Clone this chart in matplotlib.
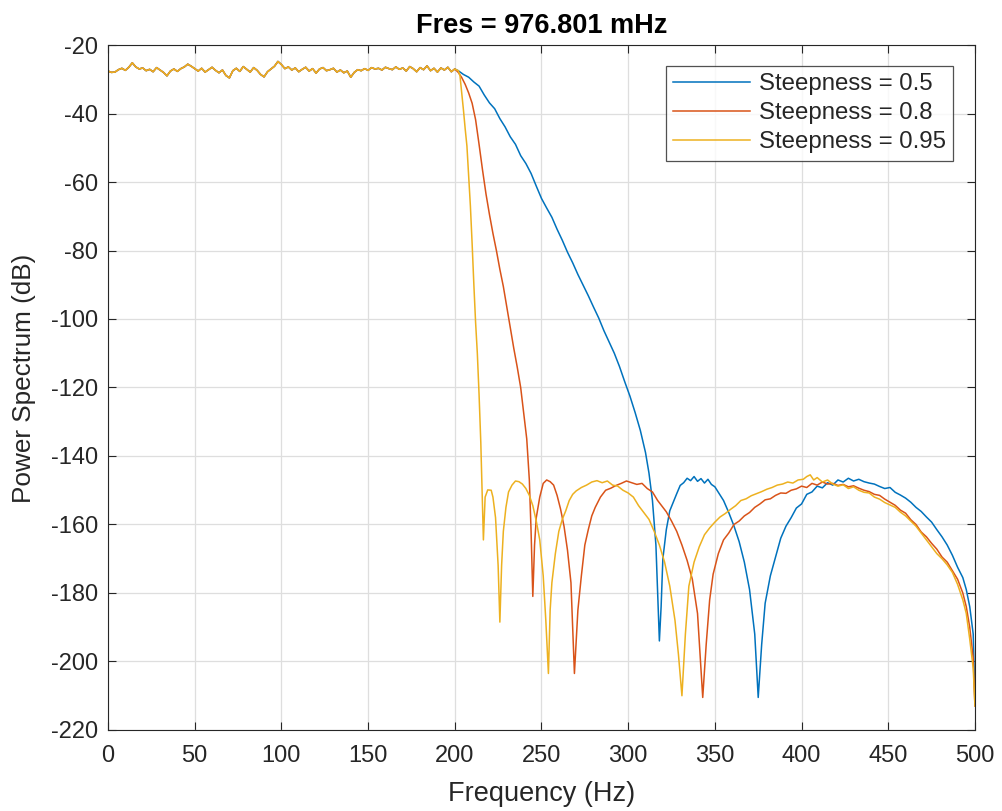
import numpy as np
import matplotlib
matplotlib.use("Agg")
import matplotlib.pyplot as plt

# ---------------- data ----------------
title_text = "Fres = 976.801 mHz"
labels = ["Steepness = 0.5", "Steepness = 0.8", "Steepness = 0.95"]
colors = ["#0072BD", "#D95319", "#EDB120"]

# common passband (0..200 Hz, every 2 Hz)
pass_freq = list(range(0, 201, 2))
pass_db = [
    -27.6, -28.0, -27.9, -27.2, -26.8, -27.4, -26.5, -25.2, -26.4, -27.0,
    -26.7, -27.5, -27.1, -27.8, -26.6, -27.3, -28.0, -29.0, -27.6, -27.0,
    -27.7, -26.9, -26.4, -25.6, -26.2, -26.9, -27.6, -26.8, -27.9, -27.2,
    -26.5, -27.4, -28.1, -27.3, -28.9, -29.6, -27.5, -26.8, -27.7, -26.3,
    -27.1, -27.9, -26.6, -27.4, -28.6, -29.3, -27.8, -27.0, -26.2, -24.8,
    -25.7, -26.9, -26.4, -27.3, -26.7, -27.8, -27.1, -26.5, -27.6, -26.9,
    -28.2, -27.0, -26.6, -27.5, -27.2, -26.8, -27.9, -27.3, -28.1, -27.6,
    -29.4, -28.0, -27.2, -27.5, -26.9, -27.4, -26.6, -27.0, -26.8, -27.3,
    -26.5, -26.9, -27.2, -26.4, -27.1, -26.7, -27.6, -26.3, -26.9, -27.8,
    -26.6, -27.2, -26.1, -27.5, -26.8, -27.9, -26.7, -27.3, -26.5, -27.8,
    -27.0,
]

# Steepness = 0.5 (above 200 Hz)
s05_freq = [202, 205, 208, 211, 214, 217, 220, 223, 226, 229, 232, 235, 238, 241, 244,
            247, 250, 253, 256, 259, 262, 265, 268, 271, 274, 277, 280, 283, 286, 289,
            292, 295, 298, 301, 304, 307, 310, 312, 314, 316, 318, 319, 320, 322, 324,
            326, 328, 330, 332, 334, 336, 338, 340, 342, 344, 346, 348, 350, 352, 355,
            358, 361, 364, 367, 370, 373, 375, 377, 379, 382, 385, 388, 391, 394, 397,
            400, 403, 406, 409, 412, 415, 418, 421, 424, 427, 430, 433, 436, 439, 442,
            445, 448, 451, 454, 457, 460, 463, 466, 469, 472, 475, 478, 481, 484, 487,
            490, 493, 495, 497, 499, 500]
s05_db = [-27.5, -28.6, -29.4, -30.8, -32.0, -34.6, -36.9, -38.6, -41.5, -43.9, -46.8,
          -49.0, -52.3, -54.6, -57.5, -61.2, -64.8, -67.6, -70.3, -73.8, -77.0, -80.5,
          -83.6, -87.0, -90.1, -93.2, -96.5, -99.7, -103.4, -106.7, -110.0, -113.9,
          -118.3, -122.5, -127.3, -132.5, -139.0, -145.0, -153.0, -166.0, -194.0,
          -184.0, -170.0, -161.5, -156.0, -153.5, -151.0, -148.6, -147.8, -146.5,
          -147.2, -146.0, -147.4, -146.6, -147.9, -146.8, -148.3, -149.0, -150.6,
          -153.0, -156.5, -160.4, -165.0, -171.0, -179.0, -192.0, -210.5, -195.0,
          -183.0, -175.0, -169.5, -164.0, -160.5, -158.0, -155.2, -154.0, -151.2,
          -150.5, -148.8, -149.3, -147.8, -148.5, -147.0, -147.6, -146.5, -147.3,
          -146.8, -147.5, -147.9, -148.2, -148.9, -149.5, -149.2, -150.6, -151.4,
          -152.3, -153.5, -155.0, -156.2, -157.8, -159.3, -161.5, -163.6, -166.0,
          -169.0, -172.5, -175.5, -179.0, -184.0, -192.0, -212.0]

# Steepness = 0.8 (above 200 Hz)
s08_freq = [202, 204, 206, 208, 210, 212, 214, 216, 218, 220, 222, 224, 226, 228, 230,
            232, 234, 236, 238, 240, 241.5, 243, 244, 245, 246, 247, 249, 251, 253, 255,
            257, 259, 261, 263, 265, 267, 269, 271, 273, 275, 277, 279, 281, 284, 287,
            290, 293, 296, 299, 302, 305, 308, 311, 314, 317, 320, 322, 325, 328, 331,
            334, 337, 340, 343, 345, 347, 349, 352, 355, 358, 361, 364, 367, 370, 373,
            376, 379, 382, 385, 388, 391, 394, 397, 400, 403, 406, 409, 412, 415, 418,
            421, 424, 427, 430, 433, 436, 439, 442, 445, 448, 451, 454, 457, 460, 463,
            466, 469, 472, 475, 478, 481, 484, 487, 490, 493, 495, 497, 499, 500]
s08_db = [-28.0, -29.5, -31.5, -34.0, -37.0, -41.8, -49.0, -56.5, -63.5, -69.5, -75.0,
          -80.0, -85.5, -90.5, -96.5, -102.5, -108.5, -114.0, -120.0, -128.5, -135.0,
          -147.0, -162.0, -181.0, -166.0, -158.0, -152.0, -148.0, -147.0, -147.5,
          -148.5, -151.5, -155.5, -160.5, -167.5, -177.0, -203.5, -185.0, -175.0,
          -166.0, -161.5, -157.5, -155.0, -152.0, -150.0, -149.4, -148.6, -148.0,
          -147.3, -147.8, -148.3, -148.0, -149.5, -150.5, -153.0, -155.0, -156.3,
          -159.0, -162.0, -166.0, -170.5, -176.0, -186.0, -210.5, -195.0, -182.0,
          -174.5, -168.5, -164.5, -162.5, -160.0, -159.0, -157.5, -156.5, -155.0,
          -154.0, -152.8, -152.5, -151.5, -150.8, -150.9, -150.0, -149.6, -148.8,
          -149.2, -148.0, -148.5, -147.6, -148.2, -148.0, -148.6, -148.3, -149.0,
          -148.7, -149.4, -150.0, -150.4, -151.2, -151.5, -152.6, -153.5, -154.4,
          -155.8, -156.7, -158.6, -160.0, -162.2, -163.6, -165.5, -167.2, -169.5,
          -171.0, -173.5, -176.0, -180.0, -184.0, -190.0, -199.0, -213.0]

# Steepness = 0.95 (above 200 Hz)
s095_freq = [202, 203, 204, 205, 206, 207, 208, 209, 210, 211, 212, 213, 214, 215, 215.5,
             216, 216.5, 217.5, 219, 221, 222, 223.5, 225, 226, 227, 228, 229.5, 231, 233,
             235, 237, 239, 241, 243, 245, 247, 249, 251, 252.5, 254, 255, 256, 258, 260,
             262, 264, 266, 268, 270, 273, 276, 279, 282, 285, 288, 291, 294, 297, 300,
             303, 306, 309, 312, 315, 318, 321, 324, 327, 329, 331, 333, 335, 338, 341,
             344, 347, 350, 353, 356, 359, 362, 365, 368, 371, 374, 377, 380, 383, 386,
             389, 392, 395, 398, 401, 403, 405, 407, 409, 412, 415, 418, 421, 424, 427,
             430, 433, 436, 439, 442, 445, 448, 451, 454, 457, 460, 463, 466, 469, 472,
             475, 478, 481, 484, 487, 490, 493, 495, 497, 499, 500]
s095_db = [-27.5, -29.0, -34.0, -39.0, -44.5, -49.5, -58.0, -67.0, -78.0, -90.0, -101.0,
           -110.0, -122.0, -136.0, -145.0, -155.0, -164.5, -152.0, -149.9, -150.0,
           -152.0, -158.0, -172.0, -188.5, -172.0, -162.0, -155.0, -150.5, -148.5,
           -147.3, -147.5, -148.2, -149.5, -151.5, -154.5, -159.0, -164.5, -175.0,
           -188.0, -203.5, -185.0, -177.0, -168.5, -162.0, -158.5, -156.0, -153.0,
           -151.2, -150.2, -149.2, -148.5, -147.6, -147.2, -147.8, -147.3, -148.5,
           -148.8, -150.0, -150.8, -152.0, -154.5, -156.5, -158.5, -162.0, -166.0,
           -171.0, -178.0, -188.0, -198.0, -210.0, -192.0, -178.0, -171.0, -166.5,
           -163.0, -161.0, -159.3, -157.8, -156.8, -155.6, -154.5, -153.0, -152.5,
           -151.6, -151.0, -150.4, -149.7, -149.2, -148.5, -148.2, -147.6, -147.9,
           -147.0, -146.8, -146.0, -145.5, -147.0, -146.3, -147.6, -147.0, -148.2,
           -148.8, -148.4, -149.5, -149.0, -150.0, -150.6, -150.8, -152.0, -152.6,
           -153.6, -154.3, -155.0, -156.4, -157.5, -159.0, -160.5, -162.5, -164.5,
           -166.5, -168.5, -170.0, -171.8, -174.0, -177.5, -182.0, -186.0, -193.5,
           -202.0, -213.0]

x_ticks = list(range(0, 501, 50))
y_ticks = list(range(-220, -19, 20))

# ---------------- plot ----------------
plt.rcParams['font.family'] = ['Liberation Sans', 'DejaVu Sans']
plt.rcParams['axes.unicode_minus'] = False

fig = plt.figure(figsize=(10.02, 8.11), dpi=100)
ax = fig.add_axes([0.1078, 0.0999, 0.8652, 0.8446])

series = [(s05_freq, s05_db), (s08_freq, s08_db), (s095_freq, s095_db)]
for (f, d), lab, c in zip(series, labels, colors):
    ax.plot(pass_freq + f, pass_db + d, color=c, lw=1.1, label=lab)

ax.set_xlim(0, 500)
ax.set_ylim(-220, -20)
ax.set_xticks(x_ticks)
ax.set_yticks(y_ticks)
ax.grid(True, color='#dedede', lw=0.9)
ax.set_axisbelow(True)
ax.tick_params(direction='in', top=True, right=True, length=6, width=0.8,
               labelsize=17, colors='#262626', pad=7)
ax.tick_params(axis='x', pad=11)
for s in ax.spines.values():
    s.set_color('#262626')
    s.set_linewidth(0.8)

ax.set_xlabel("Frequency (Hz)", fontsize=19.5, color='#262626')
ax.set_ylabel("Power Spectrum (dB)", fontsize=18.8, color='#262626')
ax.xaxis.set_label_coords(0.5, -0.074)
ax.yaxis.set_label_coords(-0.083, 0.514)
ax.set_title(title_text, fontsize=19.5, fontweight='bold', color='black',
             y=1.0175, pad=0)

leg = ax.legend(loc='upper right', bbox_to_anchor=(0.9745, 0.969), fontsize=17.3,
                frameon=True, fancybox=False, edgecolor='#262626', handlelength=3.2,
                handletextpad=0.35, borderpad=0.3, labelspacing=0.29, borderaxespad=0)
leg.get_frame().set_linewidth(0.9)
for t in leg.get_texts():
    t.set_color('#262626')

fig.savefig("out.png", dpi=100)
